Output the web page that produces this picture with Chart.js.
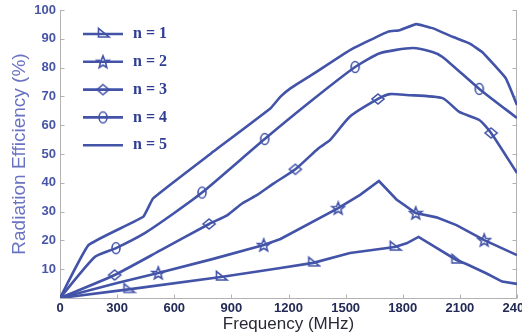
<!DOCTYPE html>
<html>
<head>
  <title>Radiation Efficiency vs Frequency</title>
  <script src="https://cdn.jsdelivr.net/npm/chart.js"></script>
  <style>
    body { margin: 0; background: #fff; }
  </style>
</head>
<body>
  <canvas id="myChart" width="522" height="335"></canvas>
  <script>
    // values (frequency in MHz, efficiency in %)
    const freq1 = [0, 360, 845, 1054, 1158, 1330, 1523, 1758, 1820, 1883, 2082, 2134, 2238, 2322, 2400];
    const eff1  = [0, 3, 7.3, 9.4, 10.4, 12.2, 15.6, 17.7, 19, 21.2, 13.2, 11.8, 8.6, 5.7, 4.9];
    const mark1 = [360, 845, 1330, 1758, 2082];

    const freq2 = [0, 300, 516, 800, 1070, 1158, 1461, 1576, 1675, 1767, 1868, 1977, 2082, 2228, 2400];
    const eff2  = [0, 5.2, 8.7, 13.5, 18.4, 20.5, 31.2, 35.8, 40.6, 34.2, 29.5, 28, 25.3, 20.1, 14.9];
    const mark2 = [516, 1070, 1461, 1868, 2228];

    const freq3 = [0, 287, 532, 783, 880, 958, 1036, 1123, 1236, 1358, 1419, 1523, 1670, 1732, 1820, 2009, 2097, 2202, 2264, 2400];
    const eff3  = [0, 8, 16.7, 25.7, 28.8, 32.9, 35.8, 39.8, 44.7, 52, 54.9, 63, 69.1, 70.8, 70.5, 69.4, 64.6, 61.8, 57.3, 43.4];
    const mark3 = [287, 783, 1236, 1670, 2264];

    const freq4 = [0, 184, 294, 445, 600, 746, 1075, 1330, 1550, 1680, 1852, 1956, 2009, 2202, 2400];
    const eff4  = [0, 14.3, 17.3, 22.5, 29.5, 36.6, 55.2, 69, 80.2, 85, 86.8, 85.4, 83.7, 72.6, 62.5];
    const mark4 = [294, 746, 1075, 1550, 2202];

    const freq5 = [0, 150, 437, 489, 793, 1106, 1158, 1210, 1332, 1523, 1723, 1784, 1871, 1956, 2062, 2150, 2217, 2341, 2400];
    const eff5  = [0, 18.4, 28.2, 34.6, 50.2, 65.9, 69.9, 72.8, 77.9, 86.1, 92.5, 93, 95.1, 93.7, 90.7, 88.4, 85.4, 76.3, 67];
    const mark5 = [];

    const seriesLabels = ['n = 1', 'n = 2', 'n = 3', 'n = 4', 'n = 5'];
    const xTicksMin = 0, xTicksMax = 2400, xStep = 300;
    const yTicksMin = 0, yTicksMax = 100, yStep = 10;

    const lineColor = '#4253a8';
    const sansFont = 'Arial, "Liberation Sans", sans-serif';

    // hollow marker shapes drawn on small canvases
    function makeMarker(kind) {
      const c = document.createElement('canvas');
      c.width = 16; c.height = 16;
      const g = c.getContext('2d');
      g.strokeStyle = lineColor;
      g.lineWidth = 1.6;
      g.beginPath();
      if (kind === 'tri') {
        g.moveTo(3.5, 2.5); g.lineTo(3.5, 11); g.lineTo(14, 11); g.closePath();
      } else if (kind === 'star') {
        for (let i = 0; i < 10; i++) {
          const r = i % 2 === 0 ? 6.5 : 2.8;
          const a = -Math.PI / 2 + i * Math.PI / 5;
          const px = 8 + r * Math.cos(a), py = 8.5 + r * Math.sin(a);
          if (i === 0) g.moveTo(px, py); else g.lineTo(px, py);
        }
        g.closePath();
      } else if (kind === 'diamond') {
        g.moveTo(8, 3); g.lineTo(14, 8); g.lineTo(8, 13); g.lineTo(2, 8); g.closePath();
      } else if (kind === 'circle') {
        g.ellipse(8, 8, 4, 5.5, 0, 0, Math.PI * 2);
      }
      g.stroke();
      return c;
    }

    const markers = [makeMarker('tri'), makeMarker('star'), makeMarker('diamond'), makeMarker('circle'), null];

    function toPoints(xs, ys) {
      return xs.map((f, i) => ({ x: f, y: ys[i] }));
    }

    function makeSet(i, xs, ys, marks, tension) {
      return {
        label: seriesLabels[i],
        data: toPoints(xs, ys),
        borderColor: lineColor,
        borderWidth: 2.6,
        tension: tension,
        pointStyle: markers[i] || 'circle',
        pointRadius: ctx => (markers[i] && marks.includes(ctx.raw.x)) ? 6 : 0,
        pointHoverRadius: 0,
        pointBackgroundColor: 'rgba(0,0,0,0)',
        pointBorderColor: lineColor,
        fill: false
      };
    }

    const framePlugin = {
      id: 'frame',
      beforeDatasetsDraw(chart) {
        const { ctx, chartArea: a, scales: { x, y } } = chart;
        const L = Math.round(a.left) + 0.5, R = Math.round(a.right) - 0.5, B = Math.round(a.bottom) + 0.5;
        ctx.save();
        ctx.strokeStyle = '#b2b2b2';
        ctx.lineWidth = 1;
        ctx.beginPath();
        ctx.moveTo(L, a.top); ctx.lineTo(L, B); ctx.lineTo(R, B); ctx.lineTo(R, a.top);
        y.ticks.forEach(t => {
          const py = Math.round(y.getPixelForValue(t.value)) + 0.5;
          ctx.moveTo(L, py); ctx.lineTo(L + 4, py);
          ctx.moveTo(R, py); ctx.lineTo(R - 4, py);
        });
        x.ticks.forEach(t => {
          const px = Math.round(x.getPixelForValue(t.value)) + 0.5;
          ctx.moveTo(px, B); ctx.lineTo(px, B - 4);
        });
        ctx.stroke();
        ctx.restore();
      }
    };

    const legendPlugin = {
      id: 'innerLegend',
      afterDraw(chart) {
        const { ctx, chartArea: a } = chart;
        ctx.save();
        chart.data.datasets.forEach((ds, i) => {
          const yy = a.top + 24 + i * 27.8;
          const x0 = a.left + 23, x1 = a.left + 63;
          ctx.strokeStyle = lineColor;
          ctx.lineWidth = 2.6;
          ctx.beginPath();
          ctx.moveTo(x0, yy); ctx.lineTo(x1, yy);
          ctx.stroke();
          if (markers[i]) ctx.drawImage(markers[i], (x0 + x1) / 2 - 8, yy - 8);
          ctx.fillStyle = '#2f3d94';
          ctx.font = 'bold 16px "Liberation Serif", "Times New Roman", serif';
          ctx.textBaseline = 'middle';
          ctx.fillText(ds.label, a.left + 73, yy);
        });
        ctx.restore();
      }
    };

    var ctx = document.getElementById('myChart').getContext('2d');
    var myChart = new Chart(ctx, {
      type: 'line',
      data: {
        datasets: [
          makeSet(0, freq1, eff1, mark1, 0),
          makeSet(1, freq2, eff2, mark2, 0),
          makeSet(2, freq3, eff3, mark3, 0.2),
          makeSet(3, freq4, eff4, mark4, 0.2),
          makeSet(4, freq5, eff5, mark5, 0.1)
        ]
      },
      options: {
        responsive: false,
        animation: false,
        layout: { padding: { top: 10, right: 5, left: 0, bottom: 0 } },
        plugins: {
          legend: { display: false },
          tooltip: { enabled: false }
        },
        scales: {
          x: {
            type: 'linear',
            min: xTicksMin,
            max: xTicksMax,
            grid: { display: false, drawTicks: false },
            border: { display: false },
            ticks: {
              stepSize: xStep,
              padding: 3,
              color: '#222a55',
              font: { family: sansFont, size: 13, weight: 'bold' },
              callback: function(value) {
                return String(value);
              }
            },
            title: {
              display: true,
              text: 'Frequency (MHz)',
              color: '#2a2a36',
              font: { family: sansFont, size: 17 },
              padding: { top: 0, bottom: 0 }
            },
            afterFit: function(scale) {
              scale.height = 37;
              scale.paddingLeft = 0;
              scale.paddingRight = 0;
            }
          },
          y: {
            min: yTicksMin,
            max: yTicksMax,
            grid: { display: false, drawTicks: false },
            border: { display: false },
            ticks: {
              stepSize: yStep,
              padding: 4,
              color: '#4855a6',
              font: { family: sansFont, size: 13, weight: 'bold' },
              callback: function(value) {
                return value === 0 ? '' : value;
              }
            },
            title: {
              display: true,
              text: 'Radiation Efficiency (%)',
              color: '#6a73c2',
              font: { family: sansFont, size: 19 },
              padding: { top: 8, bottom: 0 }
            },
            afterFit: function(scale) {
              scale.width = 60;
              scale.paddingTop = 0;
            }
          }
        }
      },
      plugins: [framePlugin, legendPlugin]
    });
  </script>
</body>
</html>
